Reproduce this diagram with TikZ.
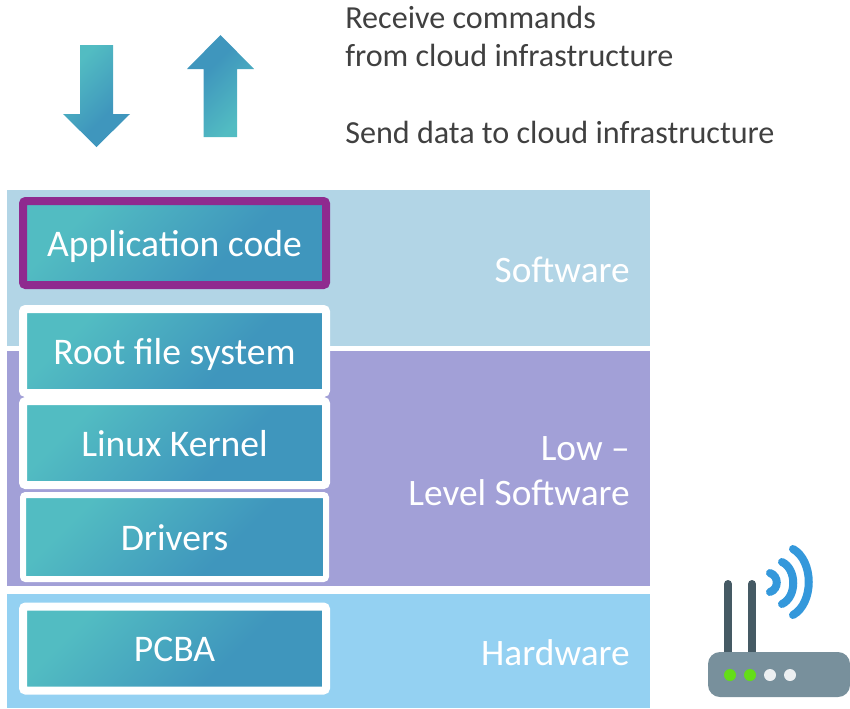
\documentclass[tikz,border=0pt]{standalone}
\usepackage{fontspec}
\setmainfont{Carlito}
\usetikzlibrary{positioning}

\definecolor{gradteal}{HTML}{52BCC2}
\definecolor{gradblue}{HTML}{3F96BD}
\definecolor{softpanel}{HTML}{B2D5E6}
\definecolor{lowpanel}{HTML}{A2A0D7}
\definecolor{hardpanel}{HTML}{94D1F2}
\definecolor{appborder}{HTML}{8F2A8F}
\definecolor{captiontext}{HTML}{404040}
\definecolor{antenna}{HTML}{455A64}
\definecolor{routerbody}{HTML}{78909C}
\definecolor{ledgreen}{HTML}{64DD17}
\definecolor{ledoff}{HTML}{ECEFF1}
\definecolor{wave}{HTML}{3498DB}
\pgfdeclareverticalshading{stackgrad}{100bp}{color(0bp)=(gradblue); color(38bp)=(gradblue); color(72bp)=(gradteal); color(100bp)=(gradteal)}

\begin{document}
\begin{tikzpicture}[x=0.75pt, y=-0.75pt,
    panel/.style={rectangle, anchor=north west, inner sep=0pt, outer sep=0pt},
    stack/.style={rectangle, shading=stackgrad, shading angle=45, draw=white, line width=6pt,
        rounded corners=2pt, minimum width=227.25pt, minimum height=63pt, inner sep=0pt,
        text height=22pt, text depth=2.5pt, text=white, font=\fontsize{28.2}{32}\selectfont},
    layer/.style={anchor=east, align=right, text=white, inner sep=0pt,
        font=\fontsize{28}{34}\selectfont},
    caption/.style={anchor=west, align=left, text=captiontext, inner sep=0pt,
        font=\fontsize{24.1}{28.5}\selectfont}]
    \useasboundingbox (0,0) rectangle (850,708);

    \node[panel, fill=softpanel, minimum width=482.25pt, minimum height=117pt] (software) at (7,190) {};
    \node[panel, fill=lowpanel, minimum width=482.25pt, minimum height=176.25pt] (lowlevel) at (7,351) {};
    \node[panel, fill=hardpanel, minimum width=482.25pt, minimum height=85.5pt] (hardware) at (7,594) {};

    \node[stack, draw=appborder] (app) at (174.5,243) {Application code};
    \node[stack] (rootfs) at (174.5,351) {Root file system};
    \node[stack, below=0pt of rootfs] (kernel) {Linux Kernel};
    \node[stack, line width=4.5pt, below=2.25pt of kernel] (drivers) {Drivers};
    \node[stack] (pcba) at (174.5,648.5) {PCBA};

    \node[layer] (softlabel) at (630,270) {Software};
    \node[layer] (lowlabel) at (630,471) {Low --\\Level Software};
    \node[layer] (hardlabel) at (630,653) {Hardware};

    \node[caption] (receive) at (345,36) {Receive commands\\from cloud infrastructure};
    \node[caption] (send) at (345,132.5) {Send data to cloud infrastructure};

    % arrows
    \shade[shading=stackgrad, shading angle=45] (80,45) -- (113,45) -- (113,114) -- (130,114)
        -- (96.5,147) -- (63,114) -- (80,114) -- cycle;
    \shade[shading=stackgrad, shading angle=225] (203.5,137) -- (237,137) -- (237,69) -- (254,69)
        -- (220.5,35) -- (187,69) -- (203.5,69) -- cycle;

    % router
    \foreach \antx in {728,752}
        \draw[antenna, line width=6pt, line cap=round] (\antx,584) -- (\antx,660);
    \fill[routerbody, rounded corners=9pt] (708,652) rectangle (850,697);
    \foreach \dotx/\dotcol in {730/ledgreen, 750/ledgreen, 770/ledoff, 790/ledoff}
        \fill[\dotcol] (\dotx,675) circle (4.5pt);
    \foreach \wavex/\wavetop/\wavebot/\wavectl/\waveoff in {770/573/592/779/3, 782/562/604/797/7, 793/549/615/814/12}
        \draw[wave, line width=6pt, line cap=round]
            (\wavex,\wavetop) .. controls (\wavectl,\wavetop+\waveoff) and (\wavectl,\wavebot-\waveoff) .. (\wavex,\wavebot);
\end{tikzpicture}
\end{document}
